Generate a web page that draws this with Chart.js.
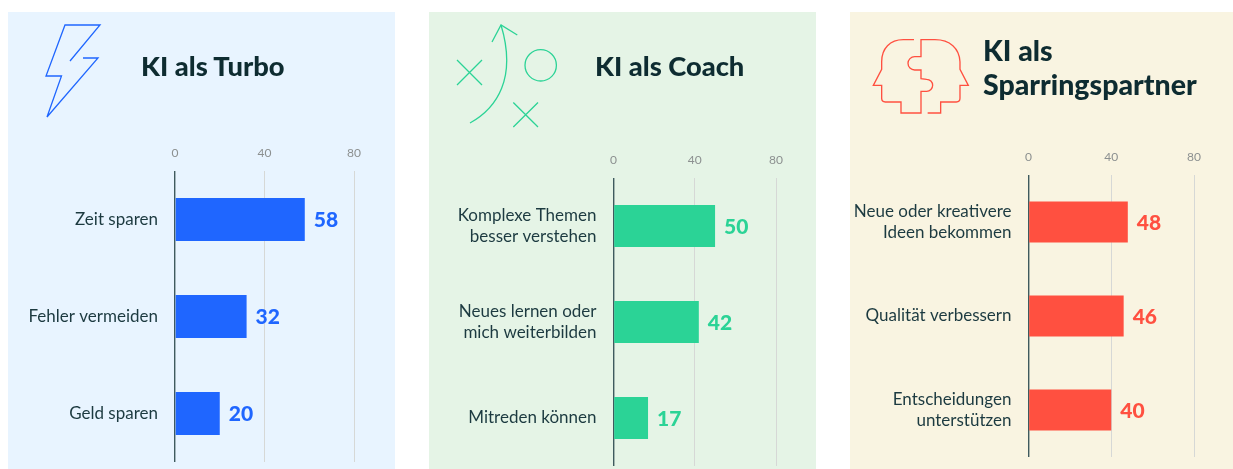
<!DOCTYPE html>
<html lang="de">
<head>
<meta charset="utf-8">
<title>KI als Turbo, Coach, Sparringspartner</title>
<script src="https://cdn.jsdelivr.net/npm/chart.js@4"></script>
<style>
    html, body { margin: 0; padding: 0; background: #fff; overflow: hidden; }
    body { width: 1233px; height: 469px; position: relative; font-family: Lato, sans-serif; }
    .panel { position: absolute; top: 12px; height: 457px; }
    .panel canvas { position: absolute; left: 0; top: 0; }
    .title { position: absolute; color: #0e2c31; font-weight: 900; font-size: 27.3px; line-height: 34px; white-space: nowrap; }
    svg.icons { position: absolute; left: 0; top: 0; pointer-events: none; }
    svg.icons * { fill: none; stroke-width: 1.3; }
    svg.icons path.head { stroke-width: 4; }
</style>
</head>
<body>
<div class="panel" id="panelTurbo" style="left:8px;width:387px;background:#e8f4ff"><canvas id="chartTurbo"></canvas></div>
<div class="panel" id="panelCoach" style="left:429px;width:387px;background:#e5f4e6"><canvas id="chartCoach"></canvas></div>
<div class="panel" id="panelSparring" style="left:850px;width:383px;background:#f9f4e1"><canvas id="chartSparring"></canvas></div>

<div class="title" style="left:141px;top:49px">KI als Turbo</div>
<div class="title" style="left:595px;top:49px">KI als Coach</div>
<div class="title" style="left:983px;top:33px;font-size:28.5px">KI als<br>Sparringspartner</div>

<svg class="icons" width="1233" height="469">
    <polyline stroke="#1f66ff" points="70,61 100,25 65,25 46,76 61.5,76 47,117 98,58 83,58"/>
    <g stroke="#2bd396">
        <path d="M470,123 C497,108 517,78 501,25"/>
        <polyline points="492,42 501,25 517.3,35"/>
        <path d="M457,60 L482,85 M457,85 L482,60 M513.3,102.5 L538,127 M513.3,127 L538,102.5"/>
        <circle cx="540.7" cy="65.3" r="15.7"/>
    </g>
    <path class="head" stroke="#ff5040" transform="translate(845,0) scale(0.3333)"
        d="M207,119 L175,119 C135,119 110,145 110,185 L110,208 L85,256 L110,256 L110,295 Q110,306 121,306 L168,306 L168,339 L228,339 L228,274 L245,274 A18,18 0 0 0 245,238 L228,236 L228,210 L209,210 A20,20 0 0 1 209,170 L228,170 L228,119 L270,119 C315,119 343,145 345,185 L345,208 L370,256 L345,256 L345,295 Q345,306 334,306 L287,306 L287,339 L248,339"/>
</svg>

<script>
    const turboLabels = ['Zeit sparen', 'Fehler vermeiden', 'Geld sparen'];
    const turboValues = [58, 32, 20];

    const coachLabels = [['Komplexe Themen', 'besser verstehen'], ['Neues lernen oder', 'mich weiterbilden'], 'Mitreden können'];
    const coachValues = [50, 42, 17];

    const sparringLabels = [['Neue oder kreativere', 'Ideen bekommen'], 'Qualität verbessern', ['Entscheidungen', 'unterstützen']];
    const sparringValues = [48, 46, 40];

    const tickValues = [0, 40, 80];

    // value printed just past the end of each bar
    const valueLabels = {
        id: 'valueLabels',
        afterDatasetsDraw(chart) {
            const { ctx } = chart;
            const dataset = chart.data.datasets[0];
            chart.getDatasetMeta(0).data.forEach((bar, i) => {
                ctx.save();
                ctx.font = '900 21px Lato, sans-serif';
                ctx.fillStyle = dataset.backgroundColor;
                ctx.textAlign = 'left';
                ctx.textBaseline = 'middle';
                ctx.fillText(dataset.data[i], bar.x + 9, bar.y + 1);
                ctx.restore();
            });
        }
    };

    function drawPanel(canvasId, labels, values, color, box) {
        const canvas = document.getElementById(canvasId);
        canvas.width = box.width;
        canvas.height = 457;
        canvas.style.width = box.width + 'px';
        canvas.style.height = '457px';

        new Chart(canvas.getContext('2d'), {
            type: 'bar',
            data: {
                labels,
                datasets: [{
                    data: values,
                    backgroundColor: color,
                    barPercentage: box.barShare,
                    categoryPercentage: 1
                }]
            },
            plugins: [valueLabels],
            options: {
                indexAxis: 'y',
                responsive: false,
                animation: false,
                layout: {
                    autoPadding: false,
                    padding: { top: 0, right: box.right, bottom: box.bottom, left: 0 }
                },
                plugins: {
                    legend: { display: false },
                    tooltip: { enabled: false }
                },
                scales: {
                    x: {
                        position: 'top',
                        min: 0,
                        max: 80,
                        afterBuildTicks: axis => { axis.ticks = tickValues.map(value => ({ value })); },
                        afterFit: axis => {
                            axis.height = box.plotTop;
                            axis.paddingLeft = 0;
                            axis.paddingRight = 0;
                        },
                        border: { display: false },
                        grid: {
                            drawTicks: false,
                            lineWidth: ctx => ctx.tick.value === 0 ? 1.4 : 1,
                            color: ctx => ctx.tick.value === 0 ? '#3f5a5e' : '#d6d8d6'
                        },
                        ticks: {
                            color: '#8c9090',
                            padding: box.tickGap,
                            maxRotation: 0,
                            font: { family: 'Lato, sans-serif', size: 12 }
                        }
                    },
                    y: {
                        // labels would otherwise reserve room below the plot
                        afterFit: axis => {
                            axis.width = box.plotLeft;
                            axis.paddingTop = 0;
                            axis.paddingBottom = 0;
                        },
                        border: { display: false },
                        grid: { display: false, drawTicks: false },
                        ticks: {
                            color: '#1c3a40',
                            padding: box.labelGap,
                            autoSkip: false,
                            font: { family: 'Lato, sans-serif', size: 17, lineHeight: 1.27 }
                        }
                    }
                }
            }
        });
    }

    drawPanel('chartTurbo', turboLabels, turboValues, '#1f66ff',
        { width: 387, plotLeft: 167, plotTop: 159, right: 41, bottom: 7, barShare: 0.443, tickGap: 11, labelGap: 17 });
    drawPanel('chartCoach', coachLabels, coachValues, '#2bd396',
        { width: 387, plotLeft: 184.5, plotTop: 166, right: 40, bottom: 3, barShare: 0.44, tickGap: 11, labelGap: 17 });
    drawPanel('chartSparring', sparringLabels, sparringValues, '#ff5040',
        { width: 383, plotLeft: 178.5, plotTop: 163, right: 39, bottom: 12, barShare: 0.436, tickGap: 11, labelGap: 17 });
</script>
</body>
</html>
